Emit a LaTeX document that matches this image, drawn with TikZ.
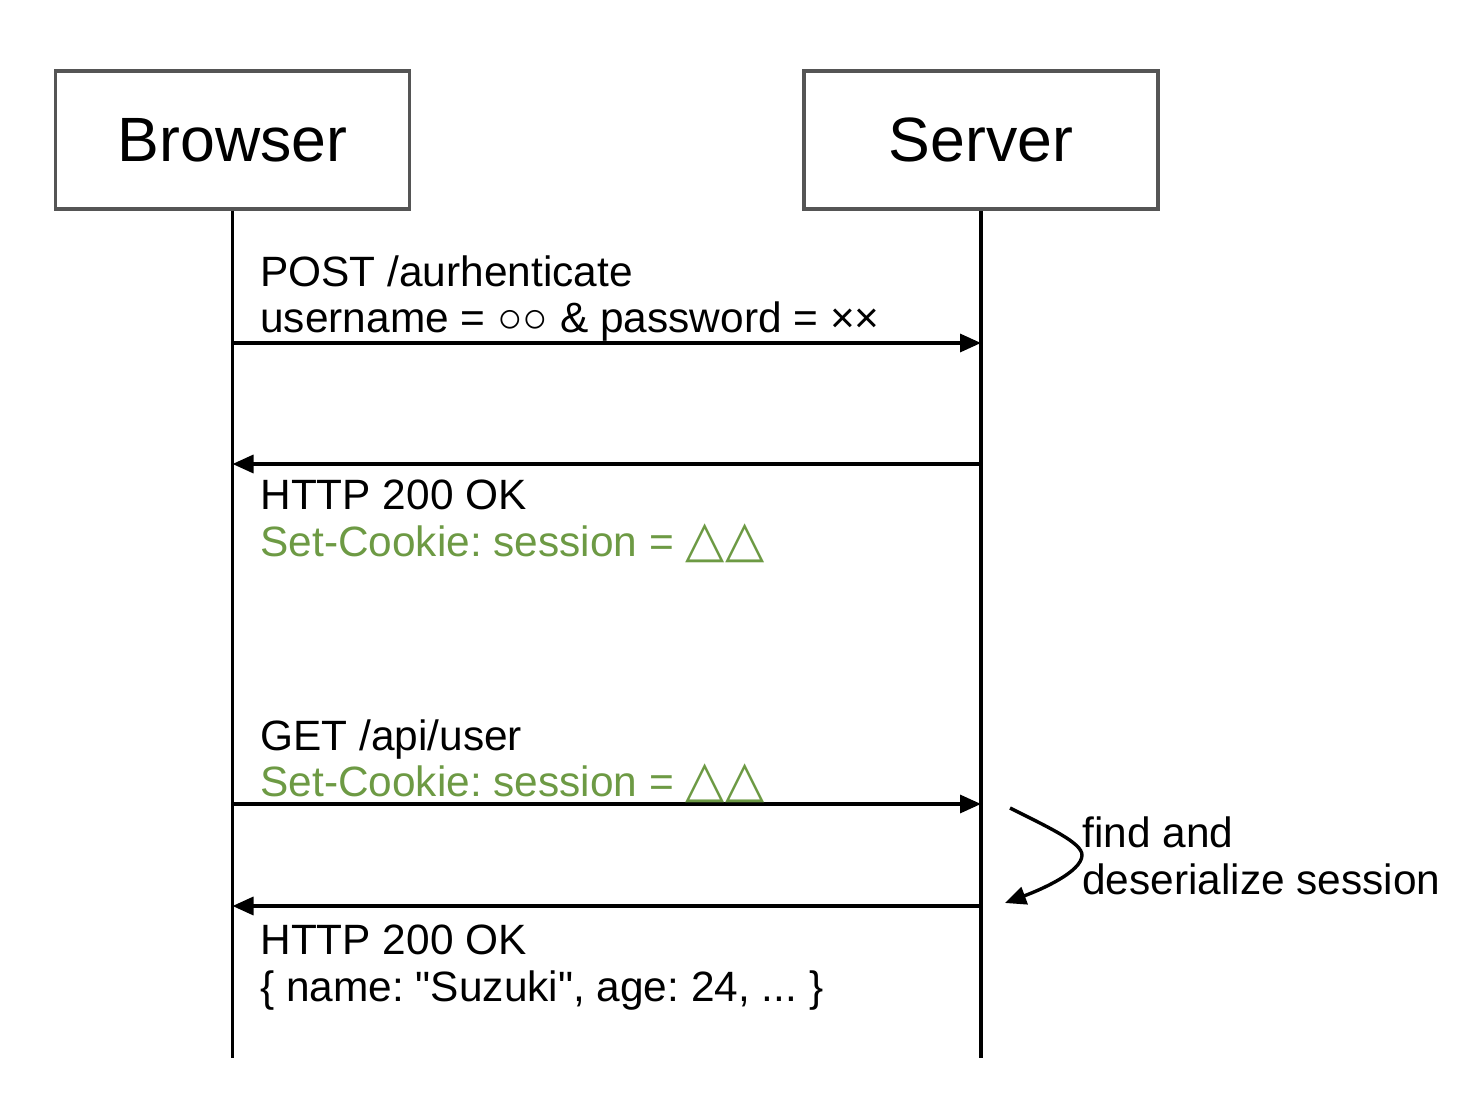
\documentclass[tikz,border=0pt]{standalone}
\usepackage{fontspec}
\setmainfont{Liberation Sans}
\newfontfamily\symfont{DejaVu Sans}
\frenchspacing
\usetikzlibrary{arrows.meta}
\definecolor{boxgray}{HTML}{555555}
\definecolor{cookie}{HTML}{6D9A44}
\newcommand{\tri}{{\symfont\fontsize{25.5}{23}\selectfont △△}}
\tikzset{%
  >={Triangle[length=10.5pt,width=9pt]}, % default arrow style
  actor/.style={draw=boxgray,line width=1.6pt,inner sep=0pt,%
    minimum width=177pt,minimum height=69pt,%
    font=\fontsize{31.3}{36}\selectfont},%
  lifeline/.style={line width=1.7pt},%
  msg/.style={->,line width=1.7pt},%
  msgtext/.style={anchor=base west,inner sep=0pt,%
    font=\fontsize{21.2}{23}\selectfont}%
}

\begin{document}
\begin{tikzpicture}[x=0.5pt,y=-0.5pt]
  \useasboundingbox (0,0) rectangle (1480,1112);
  % coordinates
  \pgfmathsetmacro{\xB}{232.5}; % x coordinate of browser lifeline
  \pgfmathsetmacro{\xS}{981};   % x coordinate of server lifeline
  \pgfmathsetmacro{\yE}{1058};  % end of lifelines
  \pgfmathsetmacro{\xT}{260};   % left edge of message texts
  % actors
  \node[actor] (browser) at (\xB,140) {Browser};
  \node[actor] (server) at (\xS,140) {Server};
  % lifelines
  \coordinate (B0) at (\xB,\yE);
  \coordinate (S0) at (\xS,\yE);
  \draw[lifeline] (browser) -- (B0);
  \draw[lifeline] (server) -- (S0);
  % messages
  \foreach \n/\y in {1/343,2/464,3/804,4/906} {
    \coordinate (B\n) at (\xB,\y);
    \coordinate (S\n) at (\xS,\y);
  }
  \draw[msg] (B1) -- (S1);
  \draw[msg] (S2) -- (B2);
  \draw[msg] (B3) -- (S3);
  \draw[msg] (S4) -- (B4);
  % labels
  \node[msgtext] (post) at (\xT,287) {POST /aurhenticate};
  \node[msgtext] (login) at (\xT,333) {username = ○○ \& password = ××};
  \node[msgtext] (ok1) at (\xT,510) {HTTP 200 OK};
  \node[msgtext,cookie] (cookie1) at (\xT,557) {Set-Cookie: session = \tri};
  \node[msgtext] (get) at (\xT,751) {GET /api/user};
  \node[msgtext,cookie] (cookie2) at (\xT,797) {Set-Cookie: session = \tri};
  \node[msgtext] (ok2) at (\xT,955) {HTTP 200 OK};
  \node[msgtext] (user) at (\xT,1001)
    {\{ name: \textquotedbl Suzuki\textquotedbl, age: 24, ... \}};
  % lookup on the server
  \coordinate (L0) at (1010,808);
  \coordinate (L1) at (1082,855);
  \coordinate (L2) at (1005,903);
  \draw[->,line width=1.7pt] (L0) .. controls (1050,828) and (1082,843) .. (L1)
    .. controls (1082,872) and (1040,890) .. (L2);
  \node[msgtext] (find) at (1082,848) {find and};
  \node[msgtext] (deser) at (1082,894) {deserialize session};
\end{tikzpicture}
\end{document}
